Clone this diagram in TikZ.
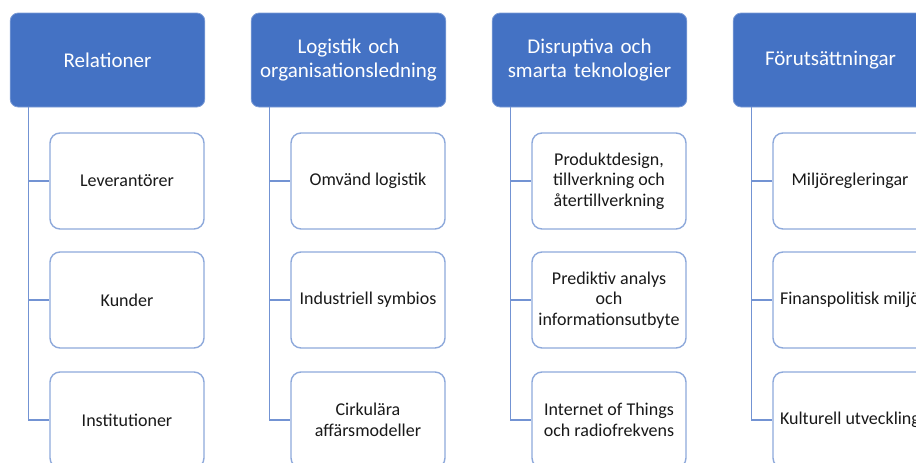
\documentclass[tikz,border=0pt]{standalone}
\usepackage{fontspec}
\setmainfont{Carlito}
\definecolor{headblue}{HTML}{4472C4}
\definecolor{itemblue}{HTML}{8EA9DB}
\definecolor{linkblue}{HTML}{7393D3}
\begin{document}
\begin{tikzpicture}[x=1pt, y=-1pt,
    head/.style={rounded corners=8pt, fill=headblue, draw=headblue!70!white, line width=0.8pt,
        minimum width=191pt, minimum height=94pt, text width=188pt, align=center, text=white,
        font=\fontsize{21}{24}\selectfont},
    item/.style={rounded corners=10pt, fill=white, draw=itemblue, line width=1.4pt,
        minimum width=154pt, minimum height=96pt, align=center, text=black!90,
        font=\fontsize{18}{20.5}\selectfont},
    link/.style={draw=linkblue, line width=1.4pt}]
    \useasboundingbox (0, 0) rectangle (916, 463);
    \clip (0, 0) rectangle (916, 463);

    \node[head] (rel) at (107.5, 60) {Relationer};
    \node[item] (rel1) at (127, 181) {Leverantörer};
    \node[item] (rel2) at (127, 300) {Kunder};
    \node[item] (rel3) at (127, 420) {Institutioner};

    \node[head] (log) at (348.5, 60) {Logistik och\\organisationsledning};
    \node[item] (log1) at (368, 181) {Omvänd logistik};
    \node[item] (log2) at (368, 300) {Industriell symbios};
    \node[item] (log3) at (368, 420) {Cirkulära\\affärsmodeller};

    \node[head] (dis) at (589.5, 60) {Disruptiva och\\smarta teknologier};
    \node[item] (dis1) at (609, 181) {Produktdesign,\\tillverkning och\\återtillverkning};
    \node[item] (dis2) at (609, 300) {Prediktiv analys\\och\\informationsutbyte};
    \node[item] (dis3) at (609, 420) {Internet of Things\\och radiofrekvens};

    \node[head] (for) at (830.5, 60) {Förutsättningar};
    \node[item] (for1) at (850, 181) {Miljöregleringar};
    \node[item] (for2) at (850, 300) {Finanspolitisk miljö};
    \node[item] (for3) at (850, 420) {Kulturell utveckling};

    % tree lines down the left side of each column
    \draw[link] ([xshift=19pt]rel.south west) |- (rel1.west);
    \draw[link] ([xshift=19pt]rel.south west) |- (rel2.west);
    \draw[link] ([xshift=19pt]rel.south west) |- (rel3.west);
    \draw[link] ([xshift=19pt]log.south west) |- (log1.west);
    \draw[link] ([xshift=19pt]log.south west) |- (log2.west);
    \draw[link] ([xshift=19pt]log.south west) |- (log3.west);
    \draw[link] ([xshift=19pt]dis.south west) |- (dis1.west);
    \draw[link] ([xshift=19pt]dis.south west) |- (dis2.west);
    \draw[link] ([xshift=19pt]dis.south west) |- (dis3.west);
    \draw[link] ([xshift=19pt]for.south west) |- (for1.west);
    \draw[link] ([xshift=19pt]for.south west) |- (for2.west);
    \draw[link] ([xshift=19pt]for.south west) |- (for3.west);
\end{tikzpicture}
\end{document}
